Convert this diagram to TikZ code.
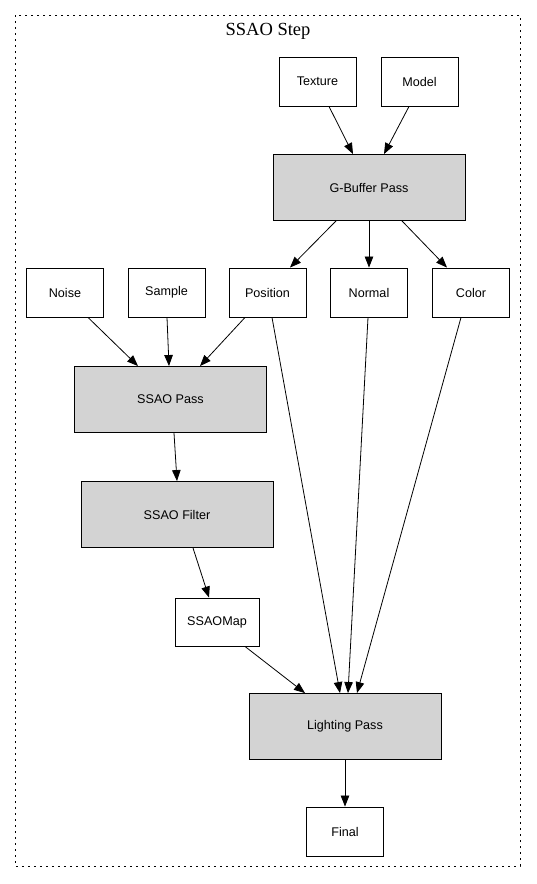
\documentclass[tikz,border=0pt]{standalone}
\usepackage{fontspec}
\setmainfont{Liberation Sans}
\newfontfamily\titlefont{Liberation Serif}
\usetikzlibrary{arrows.meta}
\definecolor{passgray}{HTML}{D3D3D3}
\begin{document}
\begin{tikzpicture}[x=1pt,y=-1pt,
  box/.style={draw=black,line width=0.9pt,fill=white,inner sep=0pt,minimum width=77pt,minimum height=49pt,font=\fontsize{12.6}{14}\selectfont},
  pass/.style={box,fill=passgray,minimum width=192pt,minimum height=66pt},
  arr/.style={line width=0.8pt,-{Triangle[length=11pt,width=8.5pt]}}]
\useasboundingbox (0,0) rectangle (536,884);
\draw[line width=1pt,dash pattern=on 1.6pt off 4.4pt] (15,15) rectangle (520,866);
\node[font=\titlefont\fontsize{18.5}{20}\selectfont] (title) at (268,31) {SSAO Step};
\node[box] (tex) at (317.5,81.5) {Texture};
\node[box] (model) at (419.5,81.5) {Model};
\node[pass] (gb) at (369,187.5) {G-Buffer Pass};
\node[box] (noise) at (65,292.5) {Noise};
\node[box] (sample) at (166.5,292.5) {Sample};
\node[box] (pos) at (267.5,292.5) {Position};
\node[box] (normal) at (369,292.5) {Normal};
\node[box] (color) at (471,292.5) {Color};
\node[pass] (ssao) at (170.5,399.5) {SSAO Pass};
\node[pass] (filter) at (177,514.5) {SSAO Filter};
\node[box,minimum width=84pt,minimum height=48pt] (map) at (217,622) {SSAOMap};
\node[pass] (light) at (345,726.5) {Lighting Pass};
\node[box] (final) at (345,831.5) {Final};
\draw[arr] ([xshift=11.5pt]tex.south) -- ([xshift=-16pt]gb.north);
\draw[arr] ([xshift=-10.5pt]model.south) -- ([xshift=15pt]gb.north);
\draw[arr] ([xshift=-33pt]gb.south) -- ([xshift=22.5pt]pos.north);
\draw[arr] (gb.south) -- (normal.north);
\draw[arr] ([xshift=33pt]gb.south) -- ([xshift=-24pt]color.north);
\draw[arr] ([xshift=23pt]noise.south) -- ([xshift=-32.5pt]ssao.north);
\draw[arr] ([xshift=0.5pt]sample.south) -- ([xshift=-1.5pt]ssao.north);
\draw[arr] ([xshift=-22.5pt]pos.south) -- ([xshift=29.5pt]ssao.north);
\draw[arr] ([xshift=3.5pt]ssao.south) -- (filter.north);
\draw[arr] ([xshift=16pt]filter.south) -- ([xshift=-8pt]map.north);
\draw[arr] ([xshift=28pt]map.south) -- ([xshift=-40pt]light.north);
\draw[arr] ([xshift=4.5pt]pos.south) -- ([xshift=-5pt]light.north);
\draw[arr] ([xshift=-1pt]normal.south) -- ([xshift=3pt]light.north);
\draw[arr] ([xshift=-10pt]color.south) -- ([xshift=12pt]light.north);
\draw[arr] (light.south) -- (final.north);
\end{tikzpicture}
\end{document}
